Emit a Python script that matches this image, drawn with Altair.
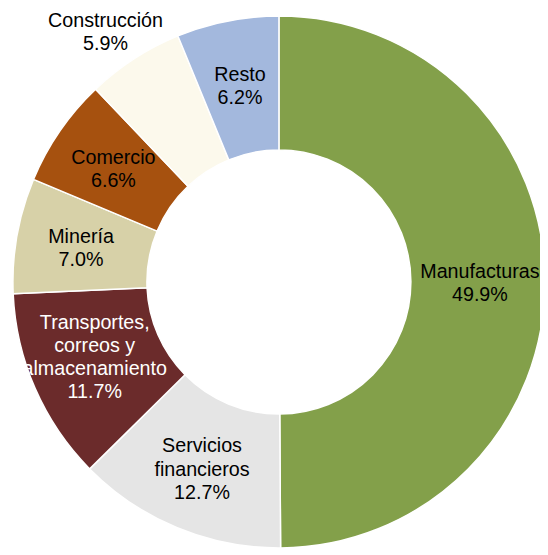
import altair as alt
import pandas as pd

categories = ["Manufacturas", "Servicios financieros", "Transportes, correos y almacenamiento",
              "Minería", "Comercio", "Construcción", "Resto"]
label_names = ["Manufacturas", "Servicios\nfinancieros", "Transportes,\ncorreos y\nalmacenamiento",
               "Minería", "Comercio", "Construcción", "Resto"]
values = [49.9, 12.7, 11.7, 7.0, 6.6, 5.9, 6.2]
colors = ["#83A04A", "#E5E5E5", "#6B2B2B", "#D7D1A8", "#A6510F", "#FCF9EC", "#A3B8DD"]

df = pd.DataFrame({
    "cat": categories,
    "value": values,
    "order": list(range(len(categories))),
    "label": [f"{n}\n{v:.1f}%" for n, v in zip(label_names, values)],
})

cx, cy = 275, 274
LH = 23.5
outside = "datum.cat == 'Construcción'"

base = alt.Chart(df).encode(
    theta=alt.Theta("value:Q", stack=True),
    order=alt.Order("order:Q"),
)

arcs = base.mark_arc(innerRadius=134, outerRadius=270, stroke="white", strokeWidth=1.5).encode(
    color=alt.Color("cat:N", scale=alt.Scale(domain=categories, range=colors), legend=None),
    x=alt.value(cx),
    y=alt.value(cy),
)


def text_layer(nlines, is_outside, extra_dx=0, extra_dy=0, radius=204):
    test = f"datum.nlines == {nlines} && " + (f"({outside})" if is_outside else f"!({outside})")
    return base.mark_text(
        radius=radius, dx=extra_dx, dy=-(nlines - 1) * LH / 2 + extra_dy,
        font="Liberation Sans", fontSize=20, lineBreak="\n", lineHeight=LH,
        align="center", baseline="middle",
    ).transform_calculate(
        nlines="length(split(datum.label, '\\n'))"
    ).encode(
        text="label:N",
        color=alt.condition("datum.cat == 'Transportes, correos y almacenamiento'",
                            alt.value("white"), alt.value("black")),
        opacity=alt.condition(test, alt.value(1), alt.value(0)),
        x=alt.value(cx),
        y=alt.value(cy),
    )


layers = [
    arcs,
    text_layer(2, False, extra_dy=2),
    text_layer(3, False, extra_dy=2),
    text_layer(4, False, extra_dy=-5),
    text_layer(2, True, extra_dx=-8, extra_dy=6, radius=309),
]

chart = alt.layer(*layers).properties(
    width=540, height=547, padding=0,
    autosize=alt.AutoSizeParams(type="none"),
).configure_view(stroke=None)

chart.save("out.html", embed_options={"renderer": "svg", "actions": False})
